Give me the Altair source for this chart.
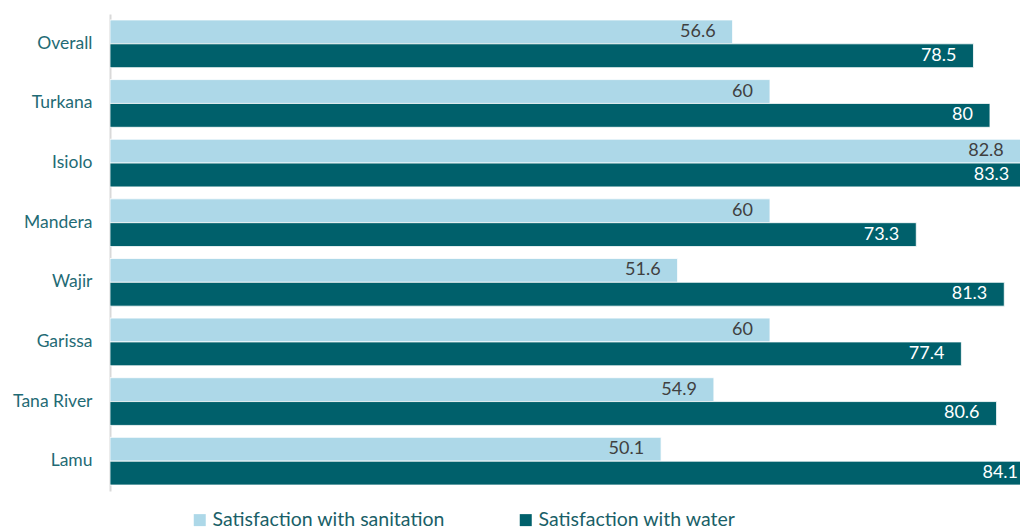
import altair as alt
import pandas as pd

categories = ["Overall", "Turkana", "Isiolo", "Mandera", "Wajir", "Garissa", "Tana River", "Lamu"]
sanitation = [56.6, 60, 82.8, 60, 51.6, 60, 54.9, 50.1]
water = [78.5, 80, 83.3, 73.3, 81.3, 77.4, 80.6, 84.1]
series_names = ["Satisfaction with sanitation", "Satisfaction with water"]

rows = []
for c, s, w in zip(categories, sanitation, water):
    rows.append({"county": c, "series": series_names[0], "value": s})
    rows.append({"county": c, "series": series_names[1], "value": w})
df = pd.DataFrame(rows)

FONT = "Lato"

base = alt.Chart(df).encode(
    y=alt.Y("county:N", sort=categories,
            scale=alt.Scale(paddingInner=0.2, paddingOuter=0.1),
            axis=alt.Axis(title=None, ticks=False, labelPadding=18, labelFontSize=17.5,
                          labelColor="#1F6B75", labelFont=FONT, domainColor="#D9D9D9",
                          domainWidth=2, grid=False)),
    yOffset=alt.YOffset("series:N", sort=series_names),
)

bars = base.mark_bar(clip=True, stroke="white", strokeWidth=0.8).encode(
    x=alt.X("value:Q", scale=alt.Scale(domain=[0, 82.73], nice=False, zero=True), axis=None),
    color=alt.Color("series:N", sort=series_names,
                    scale=alt.Scale(domain=series_names, range=["#ADD8E8", "#00606B"]),
                    legend=alt.Legend(title=None, orient="none", direction="horizontal",
                                      legendX=80, legendY=496, symbolType="square",
                                      symbolSize=144, symbolStrokeWidth=0, labelFontSize=19.5,
                                      labelFont=FONT, labelColor="#1A5F68", columnPadding=71,
                                      labelOffset=3, labelLimit=0, padding=0)),
)

labels = base.mark_text(align="right", baseline="middle", dx=-17, fontSize=18, font=FONT).encode(
    x=alt.X("value:Q"),
    text=alt.Text("value:Q"),
    color=alt.condition(alt.datum.series == series_names[1], alt.value("white"), alt.value("#404040")),
)

chart = alt.layer(bars, labels).properties(
    width=910, height=477,
    padding={"left": 110, "top": 14, "right": 0, "bottom": 38},
    autosize="none",
).configure_view(stroke=None)

chart.save("out.html", embed_options={"renderer": "svg", "actions": False})
